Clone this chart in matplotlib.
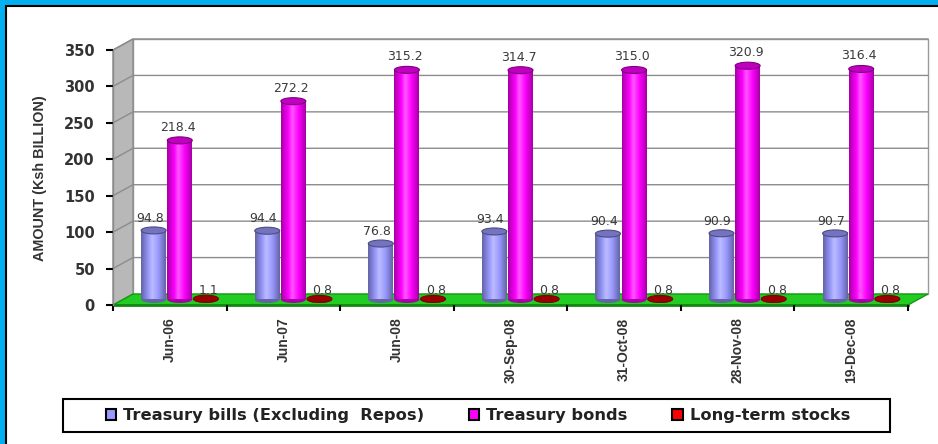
import numpy as np
import matplotlib
matplotlib.use("Agg")
import matplotlib.pyplot as plt
from matplotlib.patches import Polygon, Rectangle, Ellipse, Patch
from matplotlib.colors import LinearSegmentedColormap, to_rgb

dates = ["Jun-06", "Jun-07", "Jun-08", "30-Sep-08", "31-Oct-08", "28-Nov-08", "19-Dec-08"]
treasury_bills = [94.8, 94.4, 76.8, 93.4, 90.4, 90.9, 90.7]
treasury_bonds = [218.4, 272.2, 315.2, 314.7, 315.0, 320.9, 316.4]
long_term_stocks = [1.1, 0.8, 0.8, 0.8, 0.8, 0.8, 0.8]
series_names = ["Treasury bills (Excluding  Repos)", "Treasury bonds", "Long-term stocks"]
series_colors = ["#9999FF", "#FF00FF", "#FF0000"]
y_ticks = [0, 50, 100, 150, 200, 250, 300, 350]

W, H = 938, 444
YMAX = 350
N = len(dates)


def mix(c, other, t):
    c = np.array(to_rgb(c))
    return tuple(c * (1 - t) + np.array(other) * t)


fig = plt.figure(figsize=(W / 100, H / 100), dpi=100, facecolor="#00B0F0")
# white card with black border
fig.patches.append(Rectangle((6 / W, -0.05), 1.1, 1 - 6 / H + 0.05, transform=fig.transFigure,
                             facecolor="white", edgecolor="black", linewidth=1.5, zorder=-5))

ax = fig.add_axes([113 / W, (H - 305) / H, 795 / W, 255 / H])
ax.patch.set_visible(False)

# depth of the pseudo-3D box, in data units
DX = 20 / (795 / N)
DY = 11 * YMAX / 255

# back wall, side wall, floor
ax.add_patch(Polygon([(DX, DY), (N + DX, DY), (N + DX, YMAX + DY), (DX, YMAX + DY)],
                     facecolor="white", edgecolor="#9A9A9A", lw=1, clip_on=False, zorder=0))
ax.add_patch(Polygon([(0, 0), (DX, DY), (DX, YMAX + DY), (0, YMAX)],
                     facecolor="#B8B8B8", edgecolor="#8C8C8C", lw=1, clip_on=False, zorder=0.3))
for v in y_ticks[1:]:
    ax.plot([0, DX, N + DX], [v, v + DY, v + DY], color="#8C8C8C", lw=1,
            clip_on=False, zorder=0.5)
ax.add_patch(Polygon([(0, 0), (N, 0), (N + DX, DY), (DX, DY)],
                     facecolor="#22CC22", edgecolor="#139913", lw=1, clip_on=False, zorder=1))
ax.plot([0, N], [0, 0], color="#118811", lw=2, clip_on=False, zorder=1.1)

# cylinders
series = [treasury_bills, treasury_bonds, long_term_stocks]
offsets = [-0.23, 0.0, 0.23]
label_shift = [(-4, 12), (-2, 13), (3, 8)]  # pixels
bw = 0.22
eh = 7 * YMAX / 255
grad = np.linspace(0, 1, 64).reshape(1, -1)

for s, vals in enumerate(series):
    c = series_colors[s]
    dark = mix(c, (0, 0, 0), 0.35)
    light = mix(c, (1, 1, 1), 0.35)
    cmap = LinearSegmentedColormap.from_list(
        f"cyl{s}", [(0, dark), (0.3, to_rgb(c)), (0.45, light), (0.7, to_rgb(c)), (1, dark)])
    top_col = mix(c, (0, 0, 0), 0.25 if s < 2 else 0.4)
    for k, v in enumerate(vals):
        xc = k + 0.5 + offsets[s] + DX / 2
        y0 = DY / 2
        y1 = v + DY / 2
        ax.add_patch(Ellipse((xc, y0), bw, eh, facecolor=dark, edgecolor="none", zorder=1.9))
        ax.imshow(grad, extent=[xc - bw / 2, xc + bw / 2, y0, y1], cmap=cmap,
                  aspect="auto", interpolation="bicubic", zorder=2)
        ax.add_patch(Ellipse((xc, y1), bw, eh, facecolor=top_col,
                             edgecolor=mix(c, (0, 0, 0), 0.5), lw=0.8, zorder=2.1))
        dxp, dyp = label_shift[s]
        ax.annotate(f"{v:.1f}", (xc, y1), xytext=(dxp * 0.72, dyp * 0.72),
                    textcoords="offset points", ha="center", va="center",
                    fontsize=9, color="#3A3A3A", family="DejaVu Sans", zorder=5)

ax.set_xlim(0, N)
ax.set_ylim(0, YMAX)

for side in ["top", "right", "bottom"]:
    ax.spines[side].set_visible(False)
ax.spines["left"].set_color("#8C8C8C")
ax.spines["left"].set_linewidth(1)

ax.set_yticks(y_ticks)
ax.set_yticklabels([str(t) for t in y_ticks], fontsize=10.5, fontweight="bold",
                   family="DejaVu Sans", color="#333333")
ax.tick_params(axis="y", length=5, width=1.5, color="black", pad=8)

ax.set_xticks(range(N + 1))
ax.set_xticklabels([])
ax.tick_params(axis="x", which="major", length=4.5, width=1.5, color="black")
ax.set_xticks(np.arange(N) + 0.5, minor=True)
ax.set_xticklabels(dates, minor=True, rotation=90, fontsize=10, fontweight="bold",
                   family="Liberation Sans", color="#333333", va="top", ha="center")
ax.tick_params(axis="x", which="minor", length=0, pad=9)

fig.text(40 / W, 1 - 178 / H, "AMOUNT (Ksh BILLION)", rotation=90, ha="center", va="center",
         fontsize=10.4, fontweight="bold", family="Liberation Sans", color="#333333")

# legend box drawn separately so it can be wider than its entries
fig.patches.append(Rectangle((63 / W, (H - 432) / H), (890 - 63) / W, 33 / H,
                             transform=fig.transFigure, facecolor="white",
                             edgecolor="black", linewidth=1.5, zorder=-4))
handles = [Patch(facecolor=c, edgecolor="black", linewidth=1.5) for c in series_colors]
fig.legend(handles, series_names, loc="center", bbox_to_anchor=(478 / W, 1 - 415.5 / H),
           ncol=3, frameon=False,
           prop=dict(family="DejaVu Sans", weight="bold", size=11.7),
           labelcolor="#222222", handlelength=0.62, handleheight=0.62,
           handletextpad=0.45, columnspacing=2.75, borderpad=0.45)

fig.savefig("out.png", dpi=100, facecolor=fig.get_facecolor())
